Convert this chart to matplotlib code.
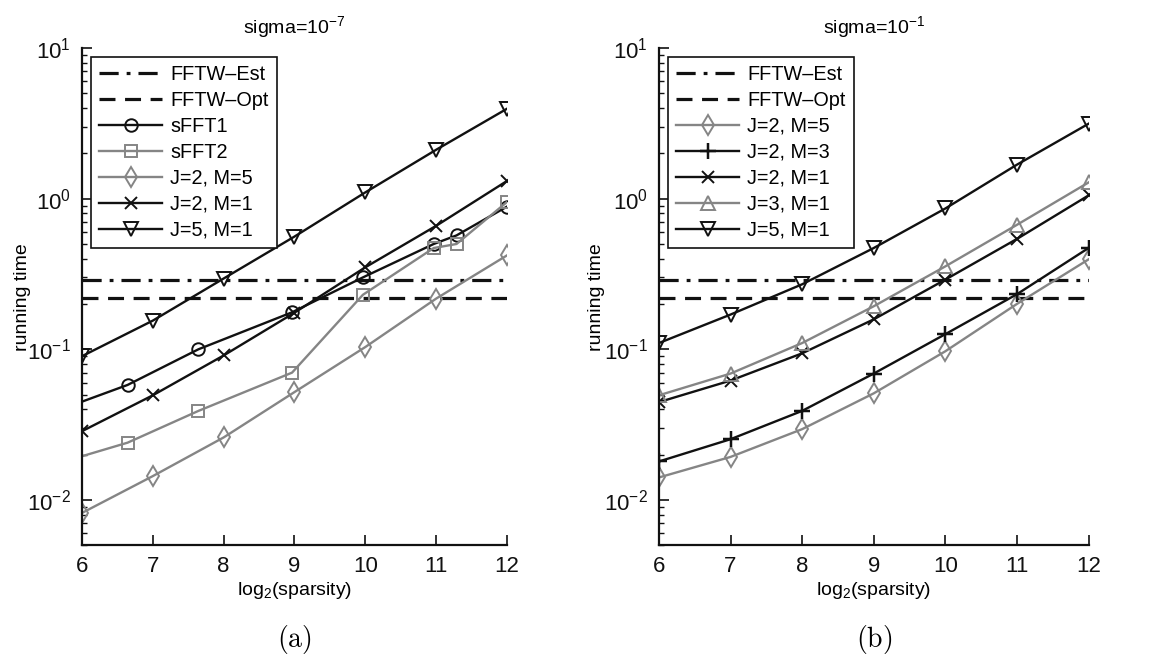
import numpy as np
import matplotlib
matplotlib.use("Agg")
import matplotlib.pyplot as plt
from matplotlib.ticker import LogLocator, LogFormatterSciNotation, NullFormatter

plt.rcParams['font.family'] = ['Liberation Sans', 'DejaVu Sans']
plt.rcParams['mathtext.fontset'] = 'custom'
plt.rcParams['mathtext.rm'] = 'Liberation Sans'
plt.rcParams['mathtext.it'] = 'Liberation Sans:italic'
plt.rcParams['mathtext.bf'] = 'Liberation Sans:bold'

# ---------------- data ----------------
x_int = [6, 7, 8, 9, 10, 11, 12]
# sFFT sparsity values (first one lies left of the visible range)
sfft_sparsity = [50, 100, 200, 500, 1000, 2000, 2500, 4096]

fftw_est = 0.29
fftw_opt = 0.218

# panel (a): sigma = 1e-7
a_sfft1 = [0.039, 0.058, 0.100, 0.176, 0.30, 0.50, 0.57, 0.885]
a_sfft2 = [0.0174, 0.024, 0.039, 0.070, 0.23, 0.47, 0.50, 0.95]
a_j2m5 = [0.0082, 0.0144, 0.026, 0.052, 0.1035, 0.217, 0.42]
a_j2m1 = [0.0286, 0.0495, 0.091, 0.175, 0.35, 0.66, 1.31]
a_j5m1 = [0.090, 0.155, 0.295, 0.56, 1.10, 2.11, 3.95]

# panel (b): sigma = 1e-1
b_j2m5 = [0.0141, 0.0193, 0.0295, 0.051, 0.097, 0.200, 0.395]
b_j2m3 = [0.018, 0.0253, 0.039, 0.069, 0.126, 0.232, 0.47]
b_j2m1 = [0.0446, 0.062, 0.094, 0.158, 0.29, 0.54, 1.05]
b_j3m1 = [0.0495, 0.069, 0.110, 0.193, 0.355, 0.67, 1.28]
b_j5m1 = [0.110, 0.170, 0.270, 0.47, 0.86, 1.68, 3.14]

titles = ['sigma=$10^{-7}$', 'sigma=$10^{-1}$']
captions = ['(a)', '(b)']

BLACK = '#111111'
GRAY = '#858585'

fig = plt.figure(figsize=(11.58, 6.57), dpi=100)
ax_a = fig.add_axes([0.0708, 0.170, 0.367, 0.757])
ax_b = fig.add_axes([0.569, 0.170, 0.371, 0.757])

lw = 1.7
ms = 9
mew = 1.4

def fftw_lines(ax):
    ax.plot([6, 12], [fftw_est, fftw_est], color=BLACK, lw=2.3, ls=(0, (6, 2.5, 1.2, 2.5)), label='FFTW–Est')
    ax.plot([6, 12], [fftw_opt, fftw_opt], color=BLACK, lw=2.3, ls=(0, (5, 3)), label='FFTW–Opt')

# panel a
xs = np.log2(sfft_sparsity)
fftw_lines(ax_a)
ax_a.plot(xs, a_sfft1, color=BLACK, lw=lw, marker='o', ms=ms, mfc='none', mew=mew, label='sFFT1')
ax_a.plot(xs, a_sfft2, color=GRAY, lw=lw, marker='s', ms=ms - 1, mfc='none', mew=mew, label='sFFT2')
ax_a.plot(x_int, a_j2m5, color=GRAY, lw=lw, marker='d', ms=ms + 1, mfc='none', mew=mew, label='J=2, M=5')
ax_a.plot(x_int, a_j2m1, color=BLACK, lw=lw, marker='x', ms=ms - 1, mew=mew, label='J=2, M=1')
ax_a.plot(x_int, a_j5m1, color=BLACK, lw=lw, marker='v', ms=ms + 1, mfc='none', mew=mew, label='J=5, M=1')

# panel b
fftw_lines(ax_b)
ax_b.plot(x_int, b_j2m5, color=GRAY, lw=lw, marker='d', ms=ms + 1, mfc='none', mew=mew, label='J=2, M=5')
ax_b.plot(x_int, b_j2m3, color=BLACK, lw=lw, marker='+', ms=ms + 2, mew=mew + 0.4, label='J=2, M=3')
ax_b.plot(x_int, b_j2m1, color=BLACK, lw=lw, marker='x', ms=ms - 1, mew=mew, label='J=2, M=1')
ax_b.plot(x_int, b_j3m1, color=GRAY, lw=lw, marker='^', ms=ms + 1, mfc='none', mew=mew, label='J=3, M=1')
ax_b.plot(x_int, b_j5m1, color=BLACK, lw=lw, marker='v', ms=ms + 1, mfc='none', mew=mew, label='J=5, M=1')

ylabel_x = [-0.12, -0.126]
for ax, title, cap, ylx in zip([ax_a, ax_b], titles, captions, ylabel_x):
    ax.set_yscale('log')
    ax.set_xlim(6, 12)
    ax.set_ylim(0.005, 10)
    ax.set_xticks(x_int)
    ax.yaxis.set_major_locator(LogLocator(base=10, numticks=10))
    ax.yaxis.set_major_formatter(LogFormatterSciNotation())
    ax.yaxis.set_minor_locator(LogLocator(base=10, subs=np.arange(2, 10), numticks=20))
    ax.yaxis.set_minor_formatter(NullFormatter())
    for s in ['top', 'right']:
        ax.spines[s].set_visible(False)
    for s in ['left', 'bottom']:
        ax.spines[s].set_linewidth(1.6)
        ax.spines[s].set_color(BLACK)
    ax.tick_params(axis='both', which='major', direction='in', length=7, width=1.2,
                   labelsize=16, pad=8, colors=BLACK)
    ax.tick_params(axis='y', which='minor', direction='in', length=3.5, width=1.0, colors=BLACK)
    ax.set_xlabel('log$_2$(sparsity)', fontsize=14, labelpad=2)
    ax.set_ylabel('running time', fontsize=14)
    ax.yaxis.set_label_coords(ylx, 0.5)
    ax.set_title(title, fontsize=14, pad=11)
    leg = ax.legend(loc='upper left', bbox_to_anchor=(0.021, 0.982), borderaxespad=0,
                    fontsize=14.3, fancybox=False, framealpha=1, edgecolor=BLACK,
                    handlelength=3.2, handletextpad=0.4, labelspacing=0.35,
                    borderpad=0.4)
    leg.get_frame().set_linewidth(1.2)
    pos = ax.get_position()
    fig.text((pos.x0 + pos.x1) / 2, 1 - 640 / 657, r'$\mathrm{' + cap + '}$', ha='center', va='center',
             fontsize=20, math_fontfamily='cm')

fig.savefig('out.png', dpi=100)
